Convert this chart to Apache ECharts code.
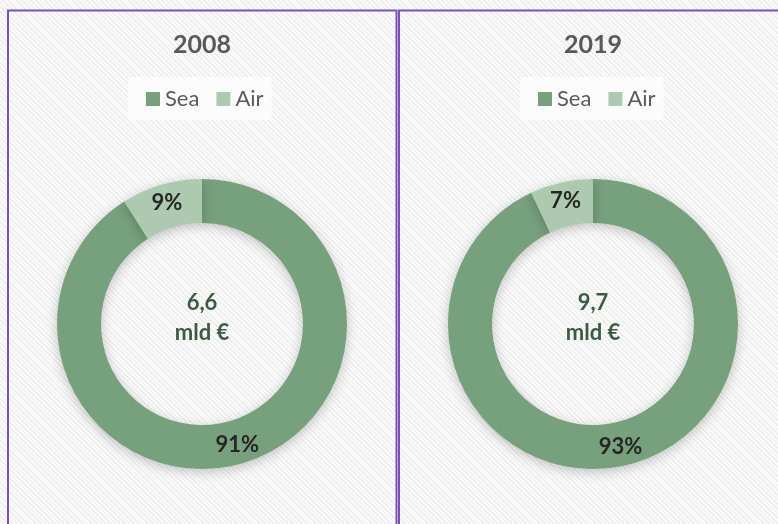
<!DOCTYPE html>
<html>
<head>
<meta charset="utf-8">
<script src="https://cdn.jsdelivr.net/npm/echarts@6/dist/echarts.min.js"></script>
<style>
  html, body { margin: 0; padding: 0; }
  body {
    width: 778px; height: 524px; overflow: hidden;
    background: #ffffff;
  }
  #chart {
    width: 778px; height: 524px;
    background: repeating-linear-gradient(45deg, #fafafa 0px, #fafafa 2.2px, #ececec 2.2px, #ececec 3.3px);
  }
</style>
</head>
<body>
<div id="chart"></div>
<script>
// Transport mode shares of trade value, two reference years
const years = ['2008', '2019'];
const modes = ['Sea', 'Air'];
const share2008 = [91, 9];
const share2019 = [93, 7];
const totals = ['6,6', '9,7'];
const totalUnit = 'mld €';

const modeColors = ['#77a07c', '#adcab0'];
const FONT = 'Lato, "Open Sans", sans-serif';

const panels = [
  { cx: 202, legendLeft: 128, values: share2008 },
  { cx: 593, legendLeft: 520, values: share2019 }
];

const chart = echarts.init(document.getElementById('chart'), null, { renderer: 'canvas' });

const series = panels.map((p) => ({
  type: 'pie',
  center: [p.cx, 324],
  radius: [101, 145],
  startAngle: 90,
  clockwise: true,
  silent: true,
  avoidLabelOverlap: false,
  label: {
    show: true,
    position: 'inside',
    formatter: '{c}%',
    fontFamily: FONT,
    fontWeight: 'bold',
    fontSize: 22,
    color: '#262626'
  },
  labelLine: { show: false },
  itemStyle: {
    borderWidth: 0,
    shadowBlur: 12,
    shadowColor: 'rgba(0,0,0,0.22)',
    shadowOffsetY: 3
  },
  emphasis: { disabled: true },
  data: modes.map((m, i) => ({
    name: m,
    value: p.values[i],
    itemStyle: { color: modeColors[i] }
  }))
}));

const legends = panels.map((p) => ({
  left: p.legendLeft,
  top: 77,
  orient: 'horizontal',
  padding: [11, 8, 10, 18],
  backgroundColor: 'rgba(255,255,255,0.7)',
  itemWidth: 14,
  itemHeight: 14,
  itemGap: 17,
  icon: 'rect',
  selectedMode: false,
  data: modes,
  textStyle: { fontFamily: FONT, fontSize: 22, color: '#595959' }
}));

const graphics = [];
// panel frames
graphics.push({
  type: 'polyline', silent: true,
  shape: { points: [[8, 530], [8, 10.5], [396.5, 10.5], [396.5, 530]] },
  style: { stroke: '#7a52b3', lineWidth: 2, fill: null }
});
graphics.push({
  type: 'polyline', silent: true,
  shape: { points: [[399, 530], [399, 10.5], [790, 10.5]] },
  style: { stroke: '#7a52b3', lineWidth: 2, fill: null }
});
panels.forEach((p, i) => {
  graphics.push({
    type: 'text', silent: true, x: p.cx, y: 45,
    style: {
      text: years[i], textAlign: 'center', textVerticalAlign: 'middle',
      fontFamily: FONT, fontWeight: 'bold', fontSize: 25, fill: '#595959'
    }
  });
  graphics.push({
    type: 'text', silent: true, x: p.cx, y: 303,
    style: {
      text: totals[i], textAlign: 'center', textVerticalAlign: 'middle',
      fontFamily: FONT, fontWeight: 'bold', fontSize: 22, fill: '#3d5a42'
    }
  });
  graphics.push({
    type: 'text', silent: true, x: p.cx, y: 333,
    style: {
      text: totalUnit, textAlign: 'center', textVerticalAlign: 'middle',
      fontFamily: FONT, fontWeight: 'bold', fontSize: 22, fill: '#3d5a42'
    }
  });
});

chart.setOption({
  animation: false,
  backgroundColor: 'transparent',
  legend: legends,
  series: series,
  graphic: graphics
});
</script>
</body>
</html>
